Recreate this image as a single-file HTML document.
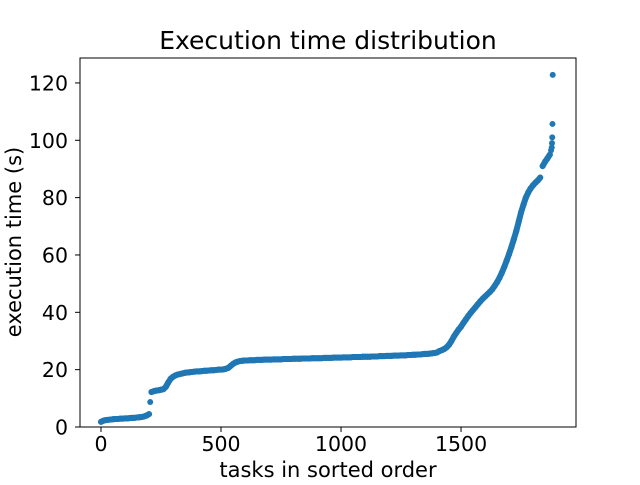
<!DOCTYPE html>
<html><head><meta charset="utf-8"><style>
body{margin:0;background:#fff}
svg text{font-family:"DejaVu Sans","Liberation Sans",sans-serif;fill:#000}
</style></head><body>
<svg id="chart" width="640" height="480">
<rect width="640" height="480" fill="#fff"/>
<text x="328" y="49" font-size="25" text-anchor="middle">Execution time distribution</text>
<g id="marks"></g>
<rect x="80" y="58" width="496" height="369" fill="none" stroke="#000" stroke-width="1"/>
<g id="axes"></g>
<text x="328" y="477" font-size="21" text-anchor="middle">tasks in sorted order</text>
<text transform="translate(21,242) rotate(-90)" font-size="21" text-anchor="middle">execution time (s)</text>
</svg>
<script>
const stepSize = 10;
const times = [1.8,2.2,2.4,2.5,2.6,2.7,2.8,2.8,2.9,2.9,3.0,3.0,3.1,3.2,3.2,3.3,3.4,3.5,3.7,4.0,4.5,
12.2,12.5,12.7,12.8,13.0,13.2,14.0,15.5,16.8,17.5,18.0,18.3,18.5,18.7,18.9,19.0,19.1,19.2,19.3,19.4,19.4,19.5,19.6,19.6,19.7,19.8,19.8,19.9,20.0,20.0,20.1,20.3,20.6,21.3,22.0,22.5,22.8,23.0,23.1,23.2,
23.2,23.3,23.3,23.3,23.4,23.4,23.4,23.5,23.5,23.5,
23.5,23.6,23.6,23.6,23.6,23.7,23.7,23.7,23.7,23.8,
23.8,23.8,23.8,23.9,23.9,23.9,23.9,24.0,24.0,24.0,
24.0,24.0,24.1,24.1,24.1,24.1,24.2,24.2,24.2,24.2,
24.3,24.3,24.3,24.3,24.4,24.4,24.4,24.4,24.5,24.5,
24.5,24.5,24.6,24.6,24.6,24.7,24.7,24.7,24.8,24.8,
24.8,24.9,24.9,24.9,25.0,25.0,25.0,25.1,25.1,25.2,
25.2,25.3,25.3,25.4,25.5,25.5,25.6,25.7,25.8,26.0,
26.5,26.8,27.2,27.8,28.7,30.0,31.5,32.8,34.0,35.0,
36.3,37.5,38.7,39.8,40.8,41.8,42.8,43.8,44.7,45.5,
46.3,47.1,48.0,49.2,50.5,52.0,53.8,55.8,58.0,60.3,
62.8,65.5,68.3,71.5,74.8,77.5,80.0,81.8,83.2,84.3,
85.2,86.0,87.0,91.0,92.5,93.7,95.0];
const extraTasks = [205,1875,1878,1879,1880,1881,1882];
const extraTimes = [8.7,96.5,97.5,99.0,101.0,105.7,122.8];
const xTicks = [0,500,1000,1500];
const yTicks = [0,20,40,60,80,100,120];

const NS="http://www.w3.org/2000/svg";
const X0=80,X1=576,Y0=427,Y1=58;
const xMin=-87.5,xMax=1979,yMin=0,yMax=128.7;
const sx=v=>X0+(v-xMin)/(xMax-xMin)*(X1-X0);
const sy=v=>Y0-(v-yMin)/(yMax-yMin)*(Y0-Y1);
const marks=document.getElementById('marks');
function dot(t,v){
  const c=document.createElementNS(NS,'circle');
  c.setAttribute('cx',sx(t).toFixed(2));c.setAttribute('cy',sy(v).toFixed(2));
  c.setAttribute('r','3');c.setAttribute('fill','#1f77b4');
  
  
  marks.appendChild(c);
}
for(let i=1;i<times.length;i++){
  if(Math.abs(times[i]-times[i-1])<3.9){
    const l=document.createElementNS(NS,'line');
    l.setAttribute('x1',sx((i-1)*stepSize));l.setAttribute('y1',sy(times[i-1]));
    l.setAttribute('x2',sx(i*stepSize));l.setAttribute('y2',sy(times[i]));
    l.setAttribute('stroke','#1f77b4');l.setAttribute('stroke-width','6');l.setAttribute('stroke-linecap','round');
    
    
    marks.appendChild(l);
  }
}
times.forEach((v,i)=>dot(i*stepSize,v));
extraTasks.forEach((t,i)=>dot(t,extraTimes[i]));
const axes=document.getElementById('axes');
xTicks.forEach(t=>{
  const x=sx(t);
  const l=document.createElementNS(NS,'line');
  l.setAttribute('x1',x);l.setAttribute('x2',x);l.setAttribute('y1',Y0);l.setAttribute('y2',Y0+5);l.setAttribute('stroke','#000');
  
  
  axes.appendChild(l);
  const tx=document.createElementNS(NS,'text');
  tx.setAttribute('x',x);tx.setAttribute('y',Y0+24);tx.setAttribute('font-size','20.5');tx.setAttribute('text-anchor','middle');
  tx.textContent=t;
  
  
  axes.appendChild(tx);
});
yTicks.forEach(t=>{
  const y=sy(t);
  const l=document.createElementNS(NS,'line');
  l.setAttribute('x1',X0-5);l.setAttribute('x2',X0);l.setAttribute('y1',y);l.setAttribute('y2',y);l.setAttribute('stroke','#000');
  
  
  axes.appendChild(l);
  const tx=document.createElementNS(NS,'text');
  tx.setAttribute('x',X0-12);tx.setAttribute('y',y+7.5);tx.setAttribute('font-size','20.5');tx.setAttribute('text-anchor','end');
  tx.textContent=t;
  
  
  axes.appendChild(tx);
});
</script>
</body></html>
